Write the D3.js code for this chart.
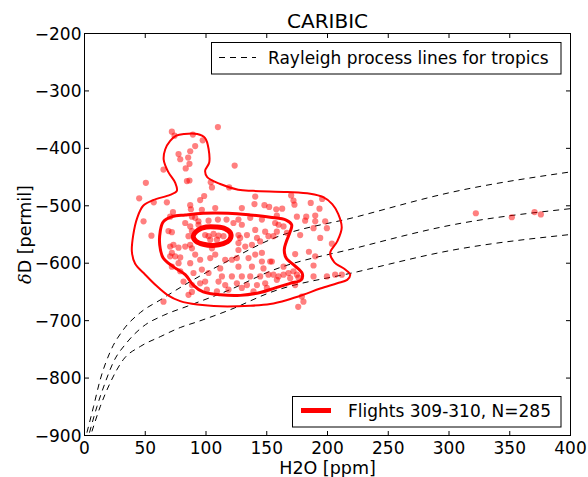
<!DOCTYPE html>
<html>
<head>
<meta charset="utf-8">
<script src="https://cdn.jsdelivr.net/npm/d3@7"></script>
<style>
body { margin: 0; background: #fff; }
svg { display: block; font-family: "DejaVu Sans", sans-serif; }
</style>
</head>
<body>
<div id="chart"></div>
<script>
/**** DATA *****/
const xTicks = [0, 50, 100, 150, 200, 250, 300, 350, 400];
const yTicks = [-900, -800, -700, -600, -500, -400, -300, -200];

// Rayleigh process lines, [H2O ppm, dD permil]
const rayleighTop = [[2.0,-895],[7.4,-850],[12.9,-803],[21.2,-754],[31.9,-716],[45.9,-686],[62.3,-664],[87.0,-632],[119.9,-594],[152.8,-559],[224.4,-519],[300.9,-477],[400,-441]];
const rayleighMid = [[4.1,-895],[10.2,-850],[17.0,-808],[23.6,-773],[34.9,-738],[48.3,-710],[64.8,-691],[84.5,-675],[119.9,-646],[152.8,-614],[224.4,-573],[300.9,-534],[400,-505]];
const rayleighLow = [[6.1,-893],[12.9,-850],[21.2,-808],[31.9,-768],[45.9,-745],[62.3,-728],[78.8,-712],[92.8,-702],[119.9,-681],[152.8,-651],[224.4,-615],[300.9,-578],[400,-550]];

// flight 309-310 measurements
const flightPoints = [
  [71.9,-371],[74.1,-378],[89.2,-376],[109.8,-363],[97.3,-386],[91.1,-396],[87.0,-405],[77.4,-410],[85.3,-416],[78.8,-419],[86.4,-427],[83.3,-435],[65.0,-437],[123.6,-430],[50.5,-460],[84.3,-457],[86.4,-456],[103.9,-459],[104.9,-468],[119.1,-468],[45.0,-487],[57.0,-494],[67.8,-494],[98.5,-483],[95.2,-490],[87.0,-499],[87.6,-506],
  [140.5,-484],[139.9,-497],[148.1,-499],[152.0,-502],[157.8,-506],[162.7,-505],[170.1,-482],[172.0,-491],[172.8,-498],[186.2,-495],[195.6,-488],[193.4,-505],[182.5,-519],[174.8,-519],[189.9,-527],[181.6,-526],[198.1,-527],[156.9,-530],[163.8,-536],[188.5,-539],[199.5,-539],[158.3,-545],[177.5,-551],[194.0,-556],[203.6,-566],[155.5,-553],[173.4,-584],[189.9,-588],[154.2,-597],[188.5,-604],[163.8,-606],[155.5,-620],[159.7,-623],[163.8,-620],[167.9,-617],[172.0,-614],[174.8,-620],[169.3,-626],[158.3,-629],[188.5,-623],[199.5,-623],[206.3,-620],[211.8,-620],[173.4,-638],[178.9,-658],[180.2,-667],[184.7,-580],
  [48.6,-527],[55.1,-552],[72.8,-511],[70.5,-519],[82.9,-530],[69.1,-544],[71.9,-546],[87.0,-536],[88.4,-544],[85.6,-553],[91.1,-521],[93.8,-533],[73.2,-568],[70.5,-571],[77.4,-573],[82.9,-571],[87.0,-568],[88.4,-574],[71.9,-582],[70.5,-588],[74.6,-588],[78.8,-590],[77.4,-600],[71.9,-606],[87.0,-600],[91.1,-585],[95.2,-594],[78.8,-614],[89.7,-617],[81.5,-632],[88.4,-638],[88.4,-650],[85.6,-655],[65.0,-667],[95.2,-635],
  [93.8,-527],[102.1,-526],[109.8,-524],[122.6,-530],[129.5,-533],[140.5,-542],[148.7,-545],[99.3,-551],[102.1,-553],[106.2,-549],[110.3,-552],[114.4,-553],[103.5,-559],[109.0,-559],[126.7,-551],[133.7,-551],[141.9,-556],[126.7,-565],[132.3,-571],[126.7,-577],[104.9,-574],[107.6,-585],[103.5,-591],[115.8,-594],[121.3,-594],[125.4,-591],[135.0,-591],[140.5,-585],[146.0,-582],[146.0,-597],[152.8,-597],[126.7,-606],[137.8,-606],[147.3,-609],[96.6,-611],[102.1,-617],[111.7,-609],[113.1,-623],[121.3,-623],[129.5,-623],[136.4,-623],[144.6,-623],[151.4,-620],[99.3,-632],[110.3,-632],[115.8,-638],[125.4,-635],[133.7,-638],[141.9,-638],[148.7,-635],[100.7,-646],[109.0,-649],[118.5,-646],[129.5,-643],[139.1,-649],[150.1,-643],[96.6,-507],[107.6,-504],[129.5,-504],
  [116.9,-524],[126.7,-524],[136.4,-521],[146.0,-524],[158.3,-517],[159.7,-533],[166.6,-547],[151.4,-553],[144.6,-562],[137.8,-568],[128.1,-556],[88.4,-519],
  [176.1,-625],[175.9,-676],[189.9,-517],
  [322.1,-513],[351.7,-520],[370.4,-511],[375.6,-515]
];

// density contours (outer, middle, inner)
const contourOuter = [[48.3,-500],[43.4,-521],[40.1,-551],[39.0,-580],[41.7,-601],[50.0,-620],[59.0,-639],[68.1,-655],[78.8,-666],[92.8,-672],[111.7,-675],[136.4,-674],[152.8,-671],[166.8,-664],[180.0,-655],[194.0,-644],[208.0,-635],[216.2,-629],[218.7,-620],[214.6,-611],[205.5,-598],[202.2,-582],[208.0,-562],[211.7,-538],[208.8,-514],[203.9,-497],[196.5,-485],[185.8,-479],[166.8,-476],[138.8,-474],[126.5,-472],[111.7,-462],[101.0,-450],[99.3,-439],[102.6,-425],[102.2,-402],[99.3,-382],[92.8,-375],[82.1,-375],[75.5,-378],[70.5,-387],[66.4,-402],[65.2,-420],[68.9,-441],[74.7,-460],[76.0,-474],[70.5,-481],[56.5,-490]];
const contourMiddle = [[64.8,-528],[72.2,-519],[82.9,-516],[97.7,-513],[118.3,-513],[136.4,-516],[152.8,-520],[166.0,-525],[170.5,-533],[169.3,-545],[166.0,-563],[164.4,-577],[166.0,-591],[173.4,-605],[179.2,-618],[178.4,-629],[169.3,-635],[157.0,-643],[144.6,-651],[128.2,-656],[111.7,-655],[97.7,-650],[89.5,-638],[82.9,-620],[73.0,-606],[64.8,-591],[61.9,-568],[62.3,-545]];
const contourInner = [[89.5,-553],[93.6,-542],[100.2,-537],[108.4,-537],[115.8,-540],[120.3,-548],[119.5,-559],[114.2,-566],[105.9,-569],[97.7,-567],[91.9,-562]];

/**** CHART *****/
const W = 588, H = 477;
const mLeft = 84.5, mRight = 570.5, mTop = 33.5, mBottom = 435.5;

const x = d3.scaleLinear().domain([0, 400]).range([mLeft, mRight]);
const y = d3.scaleLinear().domain([-900, -200]).range([mBottom, mTop]);

const svg = d3.select('#chart').append('svg')
  .attr('width', W).attr('height', H);

svg.append('clipPath').attr('id', 'plotClip')
  .append('rect').attr('x', mLeft).attr('y', mTop)
  .attr('width', mRight - mLeft).attr('height', mBottom - mTop);

const plot = svg.append('g').attr('clip-path', 'url(#plotClip)');

const rayLine = d3.line().x(d => x(d[0])).y(d => y(d[1])).curve(d3.curveMonotoneX);
[rayleighTop, rayleighMid, rayleighLow].forEach(c => {
  plot.append('path').attr('d', rayLine(c))
    .attr('fill', 'none').attr('stroke', 'black')
    .attr('stroke-width', 1).attr('stroke-dasharray', '6,5');
});

plot.append('g').selectAll('circle').data(flightPoints).join('circle')
  .attr('cx', d => x(d[0])).attr('cy', d => y(d[1]))
  .attr('r', 3.1).attr('fill', 'red').attr('fill-opacity', 0.5);

const loop = d3.line().x(d => x(d[0])).y(d => y(d[1])).curve(d3.curveCatmullRomClosed.alpha(0.5));
[[contourOuter, 2], [contourMiddle, 3], [contourInner, 5]].forEach(([c, w]) => {
  plot.append('path').attr('d', loop(c))
    .attr('fill', 'none').attr('stroke', 'red').attr('stroke-width', w);
});

// frame
svg.append('rect').attr('x', mLeft).attr('y', mTop)
  .attr('width', mRight - mLeft).attr('height', mBottom - mTop)
  .attr('fill', 'none').attr('stroke', 'black').attr('stroke-width', 1);

// ticks, inward on all four sides
const tl = 4.5;
const tk = svg.append('g').attr('stroke', 'black').attr('stroke-width', 1);
xTicks.forEach(t => {
  tk.append('line').attr('x1', x(t)).attr('x2', x(t)).attr('y1', mBottom).attr('y2', mBottom - tl);
  tk.append('line').attr('x1', x(t)).attr('x2', x(t)).attr('y1', mTop).attr('y2', mTop + tl);
});
yTicks.forEach(t => {
  tk.append('line').attr('x1', mLeft).attr('x2', mLeft + tl).attr('y1', y(t)).attr('y2', y(t));
  tk.append('line').attr('x1', mRight).attr('x2', mRight - tl).attr('y1', y(t)).attr('y2', y(t));
});

const fmt = d3.format('d');
svg.append('g').selectAll('text').data(xTicks).join('text')
  .attr('x', d => x(d)).attr('y', mBottom + 18.5)
  .attr('text-anchor', 'middle').attr('font-size', 17)
  .text(d => fmt(d));
svg.append('g').selectAll('text').data(yTicks).join('text')
  .attr('x', mLeft - 3).attr('y', d => y(d) + 6)
  .attr('text-anchor', 'end').attr('font-size', 17)
  .text(d => fmt(d));

// titles
svg.append('text').attr('x', (mLeft + mRight) / 2).attr('y', 28)
  .attr('text-anchor', 'middle').attr('font-size', 20).text('CARIBIC');
svg.append('text').attr('x', (mLeft + mRight) / 2).attr('y', 474)
  .attr('text-anchor', 'middle').attr('font-size', 17.5).text('H2O [ppm]');
const yl = svg.append('text')
  .attr('transform', `translate(31,${(mTop + mBottom) / 2}) rotate(-90)`)
  .attr('text-anchor', 'middle').attr('font-size', 17.5);
yl.append('tspan').attr('font-style', 'italic').attr('font-family', 'DejaVu Serif').text('δ');
yl.append('tspan').text('D [permil]');

// legend: rayleigh
const lg1 = svg.append('g');
lg1.append('rect').attr('x', 211.5).attr('y', 42.5).attr('width', 349.5).attr('height', 31.5)
  .attr('fill', 'white').attr('stroke', 'black').attr('stroke-width', 1);
lg1.append('line').attr('x1', 219).attr('x2', 256).attr('y1', 57.5).attr('y2', 57.5)
  .attr('stroke', 'black').attr('stroke-width', 1).attr('stroke-dasharray', '6,5');
lg1.append('text').attr('x', 268).attr('y', 63.5).attr('font-size', 17)
  .text('Rayleigh process lines for tropics');

// legend: flights
const lg2 = svg.append('g');
lg2.append('rect').attr('x', 292.5).attr('y', 396.5).attr('width', 268.5).attr('height', 30.5)
  .attr('fill', 'white').attr('stroke', 'black').attr('stroke-width', 1);
lg2.append('line').attr('x1', 301).attr('x2', 331).attr('y1', 410.5).attr('y2', 410.5)
  .attr('stroke', 'red').attr('stroke-width', 5);
lg2.append('text').attr('x', 348).attr('y', 416.5).attr('font-size', 17)
  .text('Flights 309-310, N=285');
</script>
</body>
</html>
